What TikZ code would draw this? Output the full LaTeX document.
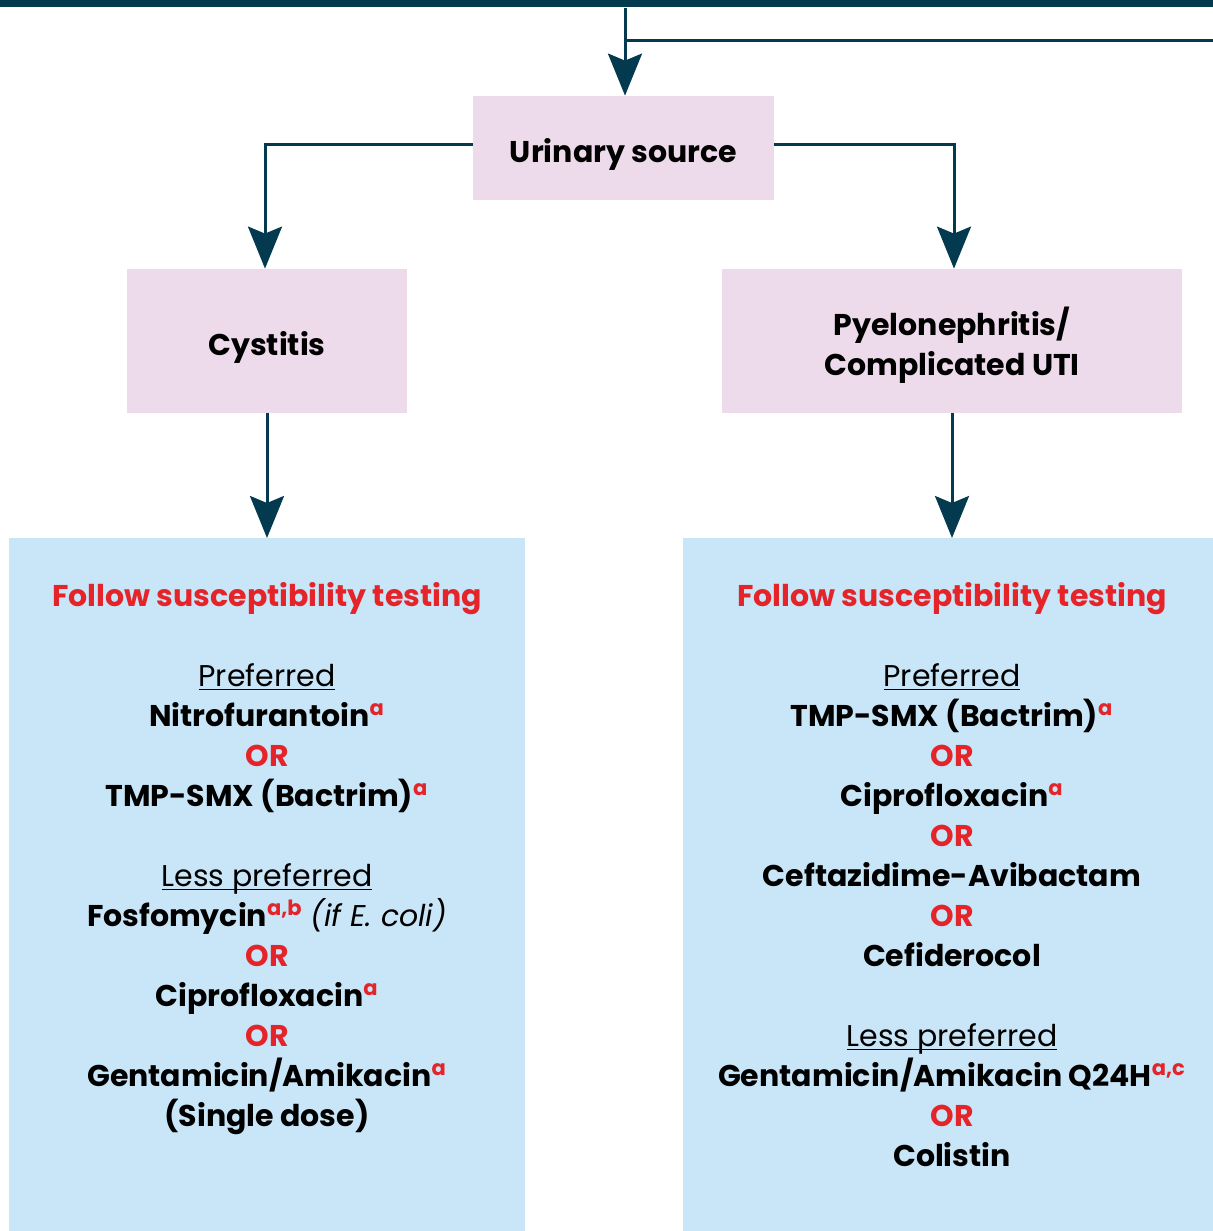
\documentclass[tikz,border=0pt]{standalone}
\usepackage{fontspec}
\setmainfont{Poppins}
\usetikzlibrary{arrows.meta,positioning}
\definecolor{navy}{HTML}{033A4F}
\definecolor{pinkfill}{HTML}{EDDAEA}
\definecolor{bluefill}{HTML}{C9E6F8}
\definecolor{ored}{HTML}{E5242A}
\newcommand{\sups}[1]{\textsuperscript{\textcolor{ored}{\bfseries #1}}}
\newcommand{\orword}{\textcolor{ored}{\bfseries OR}}
\newcommand{\lowered}[1]{\raisebox{-3pt}[\height][\depth]{\begin{tabular}{@{}c@{}}#1\end{tabular}}}
\newcommand{\uword}[1]{\underline{\smash{#1}}}

\begin{document}
\begin{tikzpicture}[x=0.5pt,y=-0.5pt]
\tikzset{
  wire/.style={draw=navy, line width=1.5pt},
  flow/.style={wire, -{Stealth[length=21pt,width=17pt,inset=3.5pt]}},
  catbox/.style={fill=pinkfill, inner sep=0pt, align=center,
    font=\fontsize{15pt}{20pt}\selectfont\bfseries},
  panel/.style={fill=bluefill, inner sep=0pt, anchor=north west,
    minimum height=346.5pt},
  paneltext/.style={inner sep=0pt, anchor=north, align=center,
    font=\fontsize{15pt}{20pt}\selectfont}
}
\useasboundingbox (0,0) rectangle (1213,1231);

% top bar and branch off to the right
\node[fill=navy, inner sep=0pt, minimum width=606.5pt, minimum height=3.5pt,
  anchor=north west] (topbar) at (0,0) {};
\coordinate (split) at (625,40);
\coordinate (offright) at (1213,40);

% boxes
\node[catbox, minimum width=150.5pt, minimum height=52pt] (urinary) at (623.5,148) {\lowered{Urinary source}};
\node[catbox, minimum width=140pt, minimum height=72pt] (cystitis) at (267,341) {\lowered{Cystitis}};
\node[catbox, minimum width=230pt, minimum height=72pt] (pyelo) at (952,341) {\lowered{Pyelonephritis/\\Complicated UTI}};
\node[panel, minimum width=258pt] (leftpanel) at (9,538) {};
\node[panel, minimum width=265pt] (rightpanel) at (683,538) {};

\node[paneltext] (lefttext) at (267,582) {%
  {\color{ored}\bfseries Follow susceptibility testing}\\[20pt]
  \uword{Preferred}\\
  \textbf{Nitrofurantoin}\sups{a}\\
  \orword\\
  \textbf{TMP-SMX (Bactrim)}\sups{a}\\[20pt]
  \uword{Less preferred}\\
  \textbf{Fosfomycin}\sups{a,b} \textit{(if E.~coli)}\\
  \orword\\
  \textbf{Ciprofloxacin}\sups{a}\\
  \orword\\
  \textbf{Gentamicin/Amikacin}\sups{a}\\
  \textbf{(Single dose)}};

\node[paneltext] (righttext) at (952,582) {%
  {\color{ored}\bfseries Follow susceptibility testing}\\[20pt]
  \uword{Preferred}\\
  \textbf{TMP-SMX (Bactrim)}\sups{a}\\
  \orword\\
  \textbf{Ciprofloxacin}\sups{a}\\
  \orword\\
  \textbf{Ceftazidime-Avibactam}\\
  \orword\\
  \textbf{Cefiderocol}\\[20pt]
  \uword{Less preferred}\\
  \textbf{Gentamicin/Amikacin Q24H}\sups{a,c}\\
  \orword\\
  \textbf{Colistin}};

% connectors
\draw[flow] (split |- topbar.south) -- (split |- urinary.north);
\draw[wire] (split) -- (offright);
\draw[flow] ([yshift=2pt]urinary.west) -| ([xshift=-1pt]cystitis.north);
\draw[flow] ([yshift=2pt]urinary.east) -| ([xshift=1pt]pyelo.north);
\draw[flow] (cystitis.south) -- (cystitis.south |- leftpanel.north);
\draw[flow] (pyelo.south) -- (pyelo.south |- rightpanel.north);
\end{tikzpicture}
\end{document}
